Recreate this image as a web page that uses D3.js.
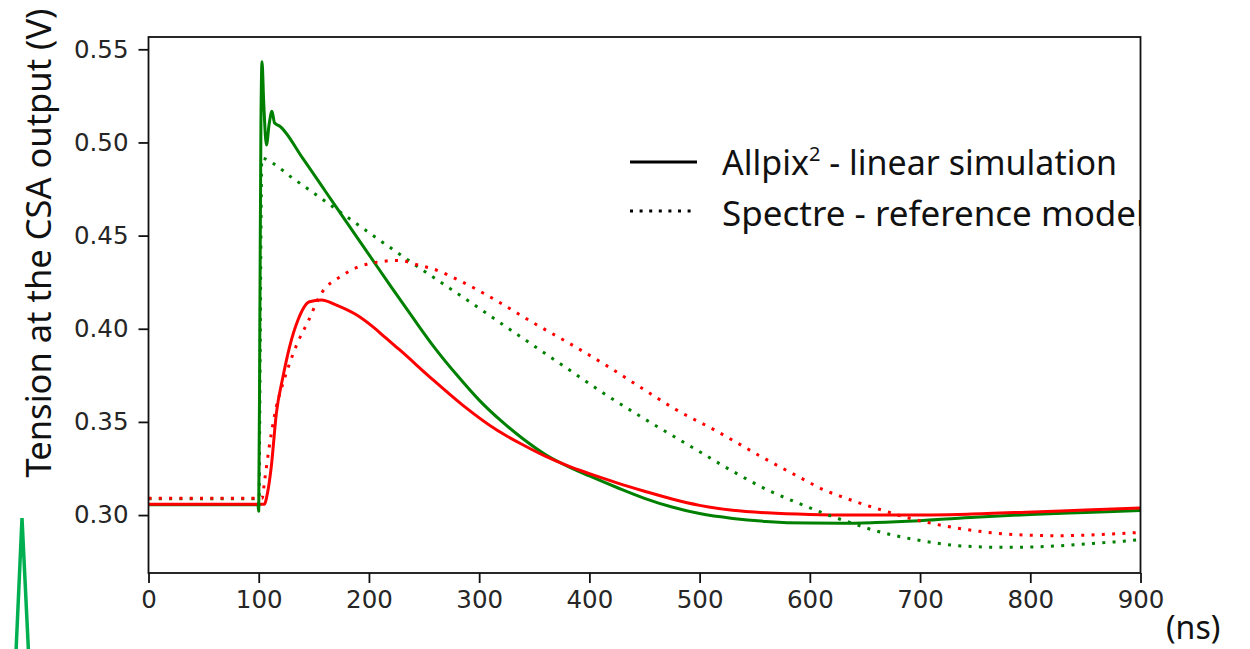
<!DOCTYPE html>
<html>
<head>
<meta charset="utf-8">
<script src="https://cdn.jsdelivr.net/npm/d3@7"></script>
<style>
  body { margin: 0; background: #fff; }
  svg { display: block; }
</style>
</head>
<body>
<script>
// CSA output, Allpix2 linear simulation vs Spectre reference
const W = 1250, H = 649

const xTicks = [0, 100, 200, 300, 400, 500, 600, 700, 800, 900]
const yTicks = [0.30, 0.35, 0.40, 0.45, 0.50, 0.55]

// Allpix2 - linear simulation (solid)
const allpixGreenT = [0, 99.3, 100, 101, 102, 103, 104.5, 107, 109.5, 112, 114.4, 118.9, 140, 160, 180, 200, 220, 240, 260, 280, 300, 320, 340, 360, 380, 400, 425, 450, 475, 500, 530, 560, 600, 630, 660, 700, 750, 800, 850, 900]
const allpixGreenV = [0.3055, 0.3055, 0.302, 0.40, 0.51, 0.5433, 0.522, 0.4986, 0.510, 0.5168, 0.5104, 0.5088, 0.4914, 0.4742, 0.4570, 0.4398, 0.4226, 0.4058, 0.3895, 0.3750, 0.3617, 0.3505, 0.3408, 0.3325, 0.3262, 0.3210, 0.3148, 0.3090, 0.3043, 0.3008, 0.2982, 0.2966, 0.2957, 0.2956, 0.2960, 0.2970, 0.2988, 0.3003, 0.3014, 0.3025]

const allpixRedT = [0, 105, 108, 111.4, 116, 122, 128, 135.6, 146, 157, 170.5, 188.6, 203.7, 215, 228, 255, 285, 316, 340, 360, 380, 400, 425, 450, 475, 500, 530, 561, 600, 640, 682, 743, 803, 850, 900]
const allpixRedV = [0.3058, 0.3058, 0.3120, 0.3260, 0.3546, 0.3742, 0.3903, 0.4047, 0.4145, 0.4155, 0.4127, 0.4075, 0.4010, 0.3952, 0.3886, 0.3742, 0.3590, 0.3456, 0.3376, 0.3316, 0.3265, 0.3222, 0.3173, 0.3128, 0.3086, 0.3052, 0.3026, 0.3012, 0.3003, 0.3000, 0.3000, 0.3005, 0.3017, 0.3027, 0.3038]

// Spectre - reference model (dotted)
const spectreGreenT = [0, 99.5, 100.2, 101, 102, 102.8, 112.9, 130, 150, 175, 200, 225, 250, 275, 300, 316.4, 347.8, 379.3, 410.8, 442.9, 467, 500, 530, 564, 585, 603, 621, 639, 656, 675, 694, 712, 732, 751, 770, 788, 807, 826.5, 845.5, 865, 884.6, 900]
const spectreGreenV = [0.3088, 0.3088, 0.303, 0.36, 0.45, 0.4916, 0.4888, 0.4812, 0.4728, 0.4622, 0.4516, 0.4412, 0.4310, 0.4210, 0.4110, 0.4043, 0.3916, 0.3789, 0.3662, 0.3542, 0.3456, 0.3340, 0.3235, 0.3128, 0.3075, 0.3032, 0.2991, 0.2955, 0.2922, 0.2893, 0.2870, 0.2852, 0.2837, 0.2830, 0.2827, 0.2827, 0.2830, 0.2835, 0.2843, 0.2851, 0.2860, 0.2868]

const spectreRedT = [0, 103, 105.4, 110, 116, 122, 128, 135.6, 144.7, 155.3, 176.5, 200.7, 211, 222, 229.5, 247.7, 256.7, 282.4, 316.3, 349, 381.7, 414.8, 446.6, 479.2, 512.5, 560, 590, 614, 631, 649, 667.5, 685.7, 703.8, 723, 741.7, 760.7, 779, 807, 827, 865, 900]
const spectreRedV = [0.309, 0.309, 0.3188, 0.3385, 0.3581, 0.3707, 0.3814, 0.3930, 0.4038, 0.4175, 0.4288, 0.4351, 0.4360, 0.4367, 0.4365, 0.4337, 0.4324, 0.4258, 0.4149, 0.4032, 0.3922, 0.3805, 0.3685, 0.3564, 0.3460, 0.3300, 0.3205, 0.3132, 0.3094, 0.3057, 0.3023, 0.2990, 0.2964, 0.2941, 0.2923, 0.2908, 0.2898, 0.2891, 0.2889, 0.2896, 0.2907]

const series = [
  { t: allpixGreenT, v: allpixGreenV, color: '#008000', dotted: false },
  { t: allpixRedT, v: allpixRedV, color: '#ff0000', dotted: false },
  { t: spectreGreenT, v: spectreGreenV, color: '#008000', dotted: true },
  { t: spectreRedT, v: spectreRedV, color: '#ff0000', dotted: true }
]

const pLeft = 148.5, pRight = 1140.5, pTop = 37, pBottom = 573

const x = d3.scaleLinear().domain([0, 900]).range([pLeft, pRight])
const y = d3.scaleLinear().domain([0.2689, 0.5566]).range([pBottom, pTop])

const svg = d3.select('body').append('svg')
    .attr('width', W)
    .attr('height', H)

const defs = svg.append('defs')
defs.append('clipPath').attr('id', 'plot')
    .append('rect')
    .attr('x', pLeft).attr('y', pTop)
    .attr('width', pRight - pLeft).attr('height', pBottom - pTop)
defs.append('clipPath').attr('id', 'legendClip')
    .append('rect')
    .attr('x', 0).attr('y', 0)
    .attr('width', pRight).attr('height', H)

const line = d3.line()
    .x(d => x(d[0]))
    .y(d => y(d[1]))
    .curve(d3.curveMonotoneX)

const plot = svg.append('g').attr('clip-path', 'url(#plot)')
series.forEach(s => {
    plot.append('path')
        .datum(s.t.map((t, i) => [t, s.v[i]]))
        .attr('d', line)
        .attr('fill', 'none')
        .attr('stroke', s.color)
        .attr('stroke-width', 3)
        .attr('stroke-linejoin', 'round')
        .attr('stroke-dasharray', s.dotted ? '3,7.3' : null)
})

// axes
const tickFont = g => g.selectAll('text')
    .attr('font-family', 'DejaVu Sans')
    .attr('font-size', 24.5)
    .attr('fill', '#262626')

svg.append('g')
    .attr('transform', `translate(0,${pBottom})`)
    .call(d3.axisBottom(x).tickValues(xTicks).tickSize(10).tickPadding(8))
    .call(g => g.select('.domain').remove())
    .call(g => g.selectAll('line').attr('stroke', '#111').attr('stroke-width', 1.8))
    .call(tickFont)

svg.append('g')
    .attr('transform', `translate(${pLeft},0)`)
    .call(d3.axisLeft(y).tickValues(yTicks).tickFormat(d3.format('.2f')).tickSize(10).tickPadding(10))
    .call(g => g.select('.domain').remove())
    .call(g => g.selectAll('line').attr('stroke', '#111').attr('stroke-width', 1.8))
    .call(tickFont)

// legend
const legend = svg.append('g').attr('clip-path', 'url(#legendClip)')
legend.append('line')
    .attr('x1', 630).attr('x2', 697).attr('y1', 162).attr('y2', 162)
    .attr('stroke', '#000').attr('stroke-width', 3)
legend.append('line')
    .attr('x1', 630).attr('x2', 697).attr('y1', 211).attr('y2', 211)
    .attr('stroke', '#000').attr('stroke-width', 3).attr('stroke-dasharray', '3,6.6')

const t1 = legend.append('text')
    .attr('x', 722).attr('y', 175)
    .attr('font-family', 'Noto Sans').attr('font-size', 34).attr('fill', '#111')
t1.append('tspan').text('Allpix')
t1.append('tspan').attr('font-size', 20).attr('dy', -14).text('2')
t1.append('tspan').attr('dy', 14).text(' - linear simulation')

legend.append('text')
    .attr('x', 722).attr('y', 226)
    .attr('font-family', 'Noto Sans').attr('font-size', 35).attr('fill', '#111')
    .text('Spectre - reference model')

// frame
svg.append('rect')
    .attr('x', pLeft).attr('y', pTop)
    .attr('width', pRight - pLeft).attr('height', pBottom - pTop)
    .attr('fill', 'none').attr('stroke', '#111').attr('stroke-width', 1.8)

// labels
svg.append('text')
    .attr('transform', 'translate(51,243) rotate(-90)')
    .attr('text-anchor', 'middle')
    .attr('font-family', 'Noto Sans').attr('font-size', 34.5).attr('fill', '#111')
    .text('Tension at the CSA output (V)')

svg.append('text')
    .attr('x', 1166).attr('y', 639)
    .attr('font-family', 'Noto Sans').attr('font-size', 32).attr('fill', '#111')
    .text('(ns)')

// green marker bottom left
svg.append('path')
    .attr('d', 'M16,652 L22,518 L28.5,652')
    .attr('fill', 'none')
    .attr('stroke', '#00b050')
    .attr('stroke-width', 3.5)
</script>
</body>
</html>
